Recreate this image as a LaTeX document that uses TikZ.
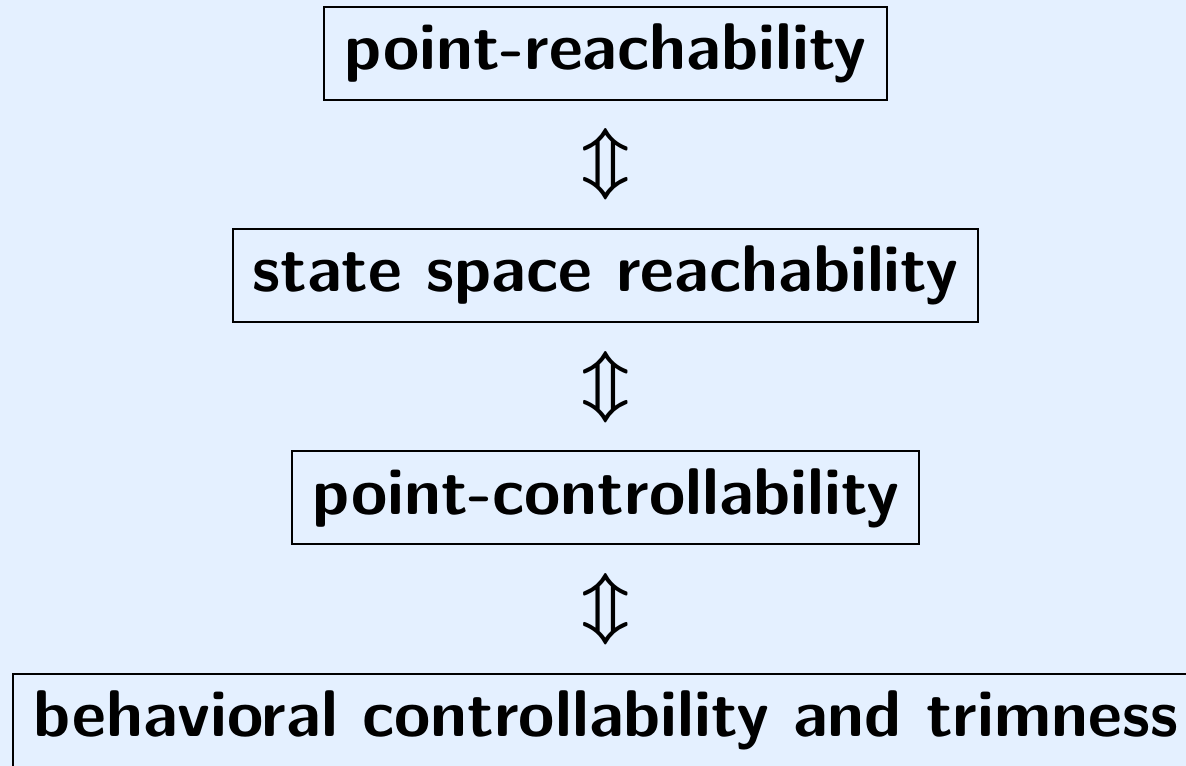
\documentclass[tikz,border=0pt]{standalone}
\usetikzlibrary{positioning}

\definecolor{panelbg}{RGB}{228,240,255}

\begin{document}
\begin{tikzpicture}[
  font=\fontsize{16.5}{20}\sffamily\bfseries,
  stage/.style={draw=black,line width=0.5pt,minimum height=23.25pt,inner xsep=5pt},
  equiv/.style={font=\fontsize{16.5}{20}\selectfont\boldmath,inner sep=0pt}
]
\useasboundingbox[fill=panelbg] (0,0) rectangle (296.5pt,-191.5pt);

\node[stage] (s1) at (151.4pt,-13.4pt) {point-reachability};
\node[stage,below=31.8pt of s1] (s2) {state space reachability};
\node[stage,below=31.8pt of s2] (s3) {point-controllability};
\node[stage,below=31.8pt of s3] (s4) {behavioral controllability and trimness};

% equivalences between consecutive notions
\path (s1) -- node[equiv] {$\Updownarrow$} (s2);
\path (s2) -- node[equiv] {$\Updownarrow$} (s3);
\path (s3) -- node[equiv] {$\Updownarrow$} (s4);

\end{tikzpicture}
\end{document}
